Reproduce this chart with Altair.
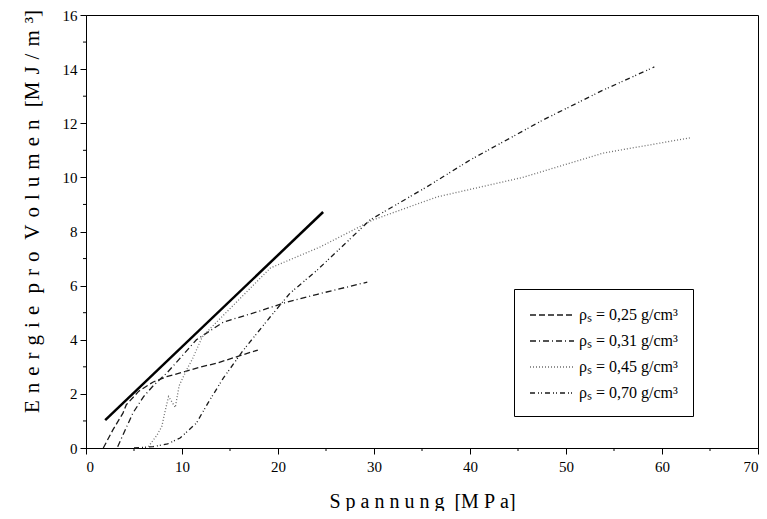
import altair as alt
import pandas as pd

# ---- data ----
series_labels = ["ρₛ = 0,25 g/cm³", "ρₛ = 0,31 g/cm³", "ρₛ = 0,45 g/cm³", "ρₛ = 0,70 g/cm³"]

s025_x = [1.8, 2.8, 3.85, 4.2, 5.5, 7.0, 8.5, 10.1, 12.0, 13.6, 15.5, 17.9]
s025_y = [0.0, 0.67, 1.29, 1.6, 2.1, 2.44, 2.65, 2.8, 3.0, 3.13, 3.35, 3.62]

s031_x = [3.3, 4.0, 4.9, 6.0, 7.0, 8.5, 10.0, 11.5, 14.3, 17.8, 21.0, 24.1, 29.3]
s031_y = [0.05, 0.6, 1.3, 1.9, 2.3, 2.8, 3.4, 4.0, 4.65, 5.03, 5.4, 5.68, 6.13]

s045_x = [6.5, 7.4, 7.9, 8.2, 8.6, 9.3, 9.7, 10.5, 11.1, 12.1, 12.9, 19.2, 24.4, 29.9, 36.6, 45.5, 53.9, 62.9]
s045_y = [0.05, 0.48, 0.8, 1.3, 1.9, 1.5, 2.3, 2.9, 3.3, 4.1, 4.4, 6.65, 7.43, 8.43, 9.28, 10.0, 10.9, 11.46]

s070_x = [5.0, 7.0, 8.5, 9.8, 11.5, 12.7, 14.3, 16.4, 19.2, 21.25, 24.1, 29.6, 35.5, 40.0, 47.6, 53.9, 59.2]
s070_y = [0.0, 0.05, 0.15, 0.37, 0.92, 1.66, 2.58, 3.62, 4.85, 5.72, 6.58, 8.43, 9.65, 10.64, 12.12, 13.23, 14.08]

solid_x = [2.0, 24.7]
solid_y = [1.03, 8.72]

x_major = [0, 10, 20, 30, 40, 50, 60, 70]
x_minor = [5, 15, 25, 35, 45, 55, 65]
y_major = [0, 2, 4, 6, 8, 10, 12, 14, 16]
y_minor = [1, 3, 5, 7, 9, 11, 13, 15]

SPX = "\u2005"
SPY = "\u2004"
x_title = SPX.join("Spannung") + SPX + " [" + SPX.join("MPa") + "]"
y_title = (SPY.join("Energie") + SPY + " " + SPY.join("pro") + SPY + " "
           + SPY.join("Volumen") + SPY + " [" + SPY.join("MJ/m³") + "]")

# ---- build tables ----
rows = []
for lab, xs, ys in zip(series_labels, [s025_x, s031_x, s045_x, s070_x],
                       [s025_y, s031_y, s045_y, s070_y]):
    for i, (xv, yv) in enumerate(zip(xs, ys)):
        rows.append({"series": lab, "x": xv, "y": yv, "i": i})
df = pd.DataFrame(rows)
solid_df = pd.DataFrame({"x": solid_x, "y": solid_y, "i": list(range(len(solid_x)))})
xminor_df = pd.DataFrame({"v": x_minor})
yminor_df = pd.DataFrame({"v": y_minor})

FONT = "Liberation Serif"
W, H = 672, 433

x_scale = alt.Scale(domain=[0, 70], nice=False, zero=False)
y_scale = alt.Scale(domain=[0, 16], nice=False, zero=False)

x_axis = alt.Axis(values=x_major, tickSize=6, labelFontSize=15, labelFont=FONT,
                  labelPadding=5, title=x_title, titleFont=FONT, titleFontSize=20,
                  titleFontWeight="normal", titleX=W / 2, titleY=59,
                  titleBaseline="alphabetic", titleAlign="center",
                  domainColor="black", tickColor="black", labelColor="black",
                  titleColor="black", grid=False, format="d")
y_axis = alt.Axis(values=y_major, tickSize=6, labelFontSize=15, labelFont=FONT,
                  labelPadding=3, title=y_title, titleFont=FONT, titleFontSize=21,
                  titleFontWeight="normal", titleAngle=270, titleX=-54, titleY=196,
                  titleBaseline="middle", titleAlign="center",
                  domainColor="black", tickColor="black", labelColor="black",
                  titleColor="black", grid=False, format="d")

dash_range = [[6, 3], [6, 3, 1, 3], [1, 2], [5, 3, 1, 2, 1, 3]]
color_range = ["#1a1a1a", "#1a1a1a", "#6e6e6e", "#1a1a1a"]

lines = alt.Chart(df).mark_line(strokeWidth=1.3).encode(
    x=alt.X("x:Q", scale=x_scale, axis=x_axis),
    y=alt.Y("y:Q", scale=y_scale, axis=y_axis),
    order="i:Q",
    strokeDash=alt.StrokeDash("series:N",
                              scale=alt.Scale(domain=series_labels, range=dash_range),
                              legend=alt.Legend(title=None)),
    color=alt.Color("series:N",
                    scale=alt.Scale(domain=series_labels, range=color_range),
                    legend=alt.Legend(title=None)),
)

solid = alt.Chart(solid_df).mark_line(strokeWidth=2.5, color="black").encode(
    x=alt.X("x:Q", scale=x_scale, axis=x_axis),
    y=alt.Y("y:Q", scale=y_scale, axis=y_axis),
    order="i:Q",
)

xminor = alt.Chart(xminor_df).mark_rule(color="black", strokeWidth=1).encode(
    x=alt.X("v:Q", scale=x_scale, axis=x_axis),
    y=alt.value(H),
    y2=alt.value(H + 3),
)
yminor = alt.Chart(yminor_df).mark_rule(color="black", strokeWidth=1).encode(
    y=alt.Y("v:Q", scale=y_scale, axis=y_axis),
    x=alt.value(0),
    x2=alt.value(-3),
)

chart = alt.layer(solid, lines, xminor, yminor).properties(
    width=W, height=H,
    padding={"left": 78, "top": 7, "right": 1, "bottom": 63},
    autosize=alt.AutoSizeParams(type="none"),
).configure_view(
    stroke="black", strokeWidth=1
).configure_legend(
    orient="none", legendX=428, legendY=274,
    strokeColor="black", fillColor="white", padding=15,
    labelFont=FONT, labelFontSize=16, labelColor="black",
    symbolType="M-1,0H3.4", symbolSize=400, symbolStrokeWidth=1.3,
    rowPadding=7, labelOffset=28, cornerRadius=0,
)

chart.save("out.html", embed_options={"renderer": "svg", "actions": False})
